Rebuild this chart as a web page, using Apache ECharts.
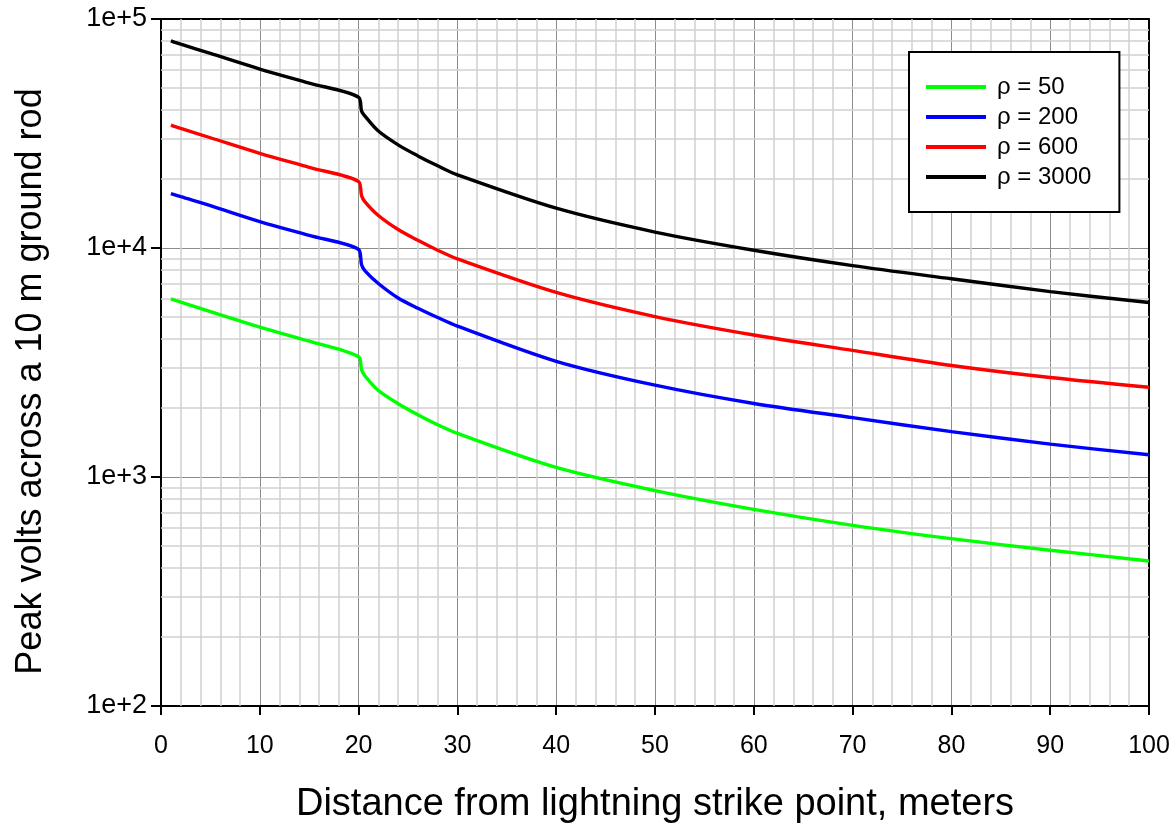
<!DOCTYPE html>
<html>
<head>
<meta charset="utf-8">
<script src="https://cdn.jsdelivr.net/npm/echarts@6/dist/echarts.min.js"></script>
<style>
html,body{margin:0;padding:0;background:#fff;}
#chart{width:1173px;height:829px;}
</style>
</head>
<body>
<div id="chart"></div>
<script>
// Distance from strike point (m)
const distances = [1, 2, 5, 10, 15, 20, 20.3, 20.65, 22, 24, 26, 28, 30, 40, 50, 60, 70, 80, 90, 100];
// Peak volts for each soil resistivity
const rho50   = [5995, 5800, 5272, 4514, 3917, 3350, 2943, 2760, 2386, 2090, 1870, 1690, 1550, 1101, 872, 722, 615, 538, 479, 430];
const rho200  = [17280, 16750, 15310, 13050, 11350, 9850, 8450, 7950, 6999, 6050, 5453, 4969, 4560, 3201, 2518, 2095, 1816, 1579, 1391, 1251];
const rho600  = [34420, 33260, 30300, 25920, 22500, 19500, 16930, 15900, 13860, 12040, 10800, 9780, 8960, 6400, 5020, 4170, 3572, 3070, 2720, 2467];
const rho3000 = [80300, 77600, 70700, 60470, 52500, 45530, 39600, 37650, 32400, 28200, 25250, 22850, 20870, 14920, 11740, 9780, 8380, 7340, 6450, 5780];
const seriesNames = ['\u03c1 = 50', '\u03c1 = 200', '\u03c1 = 600', '\u03c1 = 3000'];
const seriesColors = ['#00ff00', '#0000ff', '#ff0000', '#000000'];
// minor grid positions
const minorYTicks = [200,300,400,500,600,700,800,900,2000,3000,4000,5000,6000,7000,8000,9000,20000,30000,40000,50000,60000,70000,80000,90000];
const minorXTicks = [2,4,6,8,12,14,16,18,22,24,26,28,32,34,36,38,42,44,46,48,52,54,56,58,62,64,66,68,72,74,76,78,82,84,86,88,92,94,96,98];
const yTickLabels = {100:'1e+2', 1000:'1e+3', 10000:'1e+4', 100000:'1e+5'};

const FONT = '"Liberation Sans", Arial, sans-serif';
const chart = echarts.init(document.getElementById('chart'), null, {renderer:'canvas'});
const allVals = [rho50, rho200, rho600, rho3000];

const series = allVals.map((vals, i) => ({
  name: seriesNames[i],
  type: 'line',
  data: distances.map((d, k) => [d, vals[k]]),
  showSymbol: false,
  smooth: 0.3,
  lineStyle: {color: seriesColors[i], width: 3.4},
  itemStyle: {color: seriesColors[i]},
  z: 3,
  animation: false
}));
series.push({
  name: 'minorGrid',
  type: 'line',
  data: [],
  silent: true,
  animation: false,
  markLine: {
    z: 1,
    silent: true,
    animation: false,
    symbol: ['none', 'none'],
    label: {show: false},
    lineStyle: {type: 'solid', color: '#d0d0d0', width: 1.5},
    data: minorYTicks.map(v => ({yAxis: v})).concat(minorXTicks.map(v => ({xAxis: v})))
  }
});

chart.setOption({
  backgroundColor: '#fff',
  animation: false,
  grid: {left: 161, right: 24, top: 19, bottom: 119, containLabel: false},
  legend: {
    data: seriesNames,
    orient: 'vertical',
    left: 909,
    top: 52,
    backgroundColor: '#fff',
    borderColor: '#000',
    borderWidth: 2,
    borderRadius: 0,
    padding: [23, 28, 23, 17],
    itemGap: 6,
    itemWidth: 60,
    itemHeight: 4,
    icon: 'rect',
    textStyle: {fontFamily: FONT, fontSize: 24, color: '#000', padding: [0, 0, 0, 6]}
  },
  xAxis: [{
    type: 'value',
    min: 0, max: 100, interval: 10,
    name: 'Distance from lightning strike point, meters',
    nameLocation: 'middle',
    nameGap: 80,
    nameTextStyle: {fontFamily: FONT, fontSize: 38, color: '#000'},
    axisLine: {show: true, onZero: false, lineStyle: {color: '#000', width: 2}},
    axisTick: {show: true, inside: false, length: 9, lineStyle: {color: '#000', width: 2}},
    axisLabel: {fontFamily: FONT, fontSize: 25, color: '#000', margin: 28},
    splitLine: {show: true, lineStyle: {color: '#8c8c8c', width: 1}},
    minorTick: {show: false},
    minorSplitLine: {show: false}
  }, {
    type: 'value',
    position: 'top',
    min: 0, max: 100,
    axisLine: {show: true, onZero: false, lineStyle: {color: '#000', width: 2}},
    axisTick: {show: false}, axisLabel: {show: false}, splitLine: {show: false}
  }],
  yAxis: [{
    type: 'log',
    logBase: 10,
    min: 100, max: 100000,
    name: 'Peak volts across a 10 m ground rod',
    nameLocation: 'middle',
    nameGap: 112,
    nameRotate: 90,
    nameTextStyle: {fontFamily: FONT, fontSize: 36, color: '#000', padding: [0, 38, 0, 0]},
    axisLine: {show: true, onZero: false, lineStyle: {color: '#000', width: 2}},
    axisTick: {show: true, inside: false, length: 10, lineStyle: {color: '#000', width: 2}},
    axisLabel: {fontFamily: FONT, fontSize: 27, color: '#000', margin: 14,
      formatter: v => yTickLabels[Math.round(v)] || ''},
    splitLine: {show: true, lineStyle: {color: '#8c8c8c', width: 1}}
  }, {
    type: 'log',
    logBase: 10,
    min: 100, max: 100000,
    position: 'right',
    axisLine: {show: true, onZero: false, lineStyle: {color: '#000', width: 2}},
    axisTick: {show: false}, axisLabel: {show: false}, splitLine: {show: false}
  }],
  series: series
});
</script>
</body>
</html>
